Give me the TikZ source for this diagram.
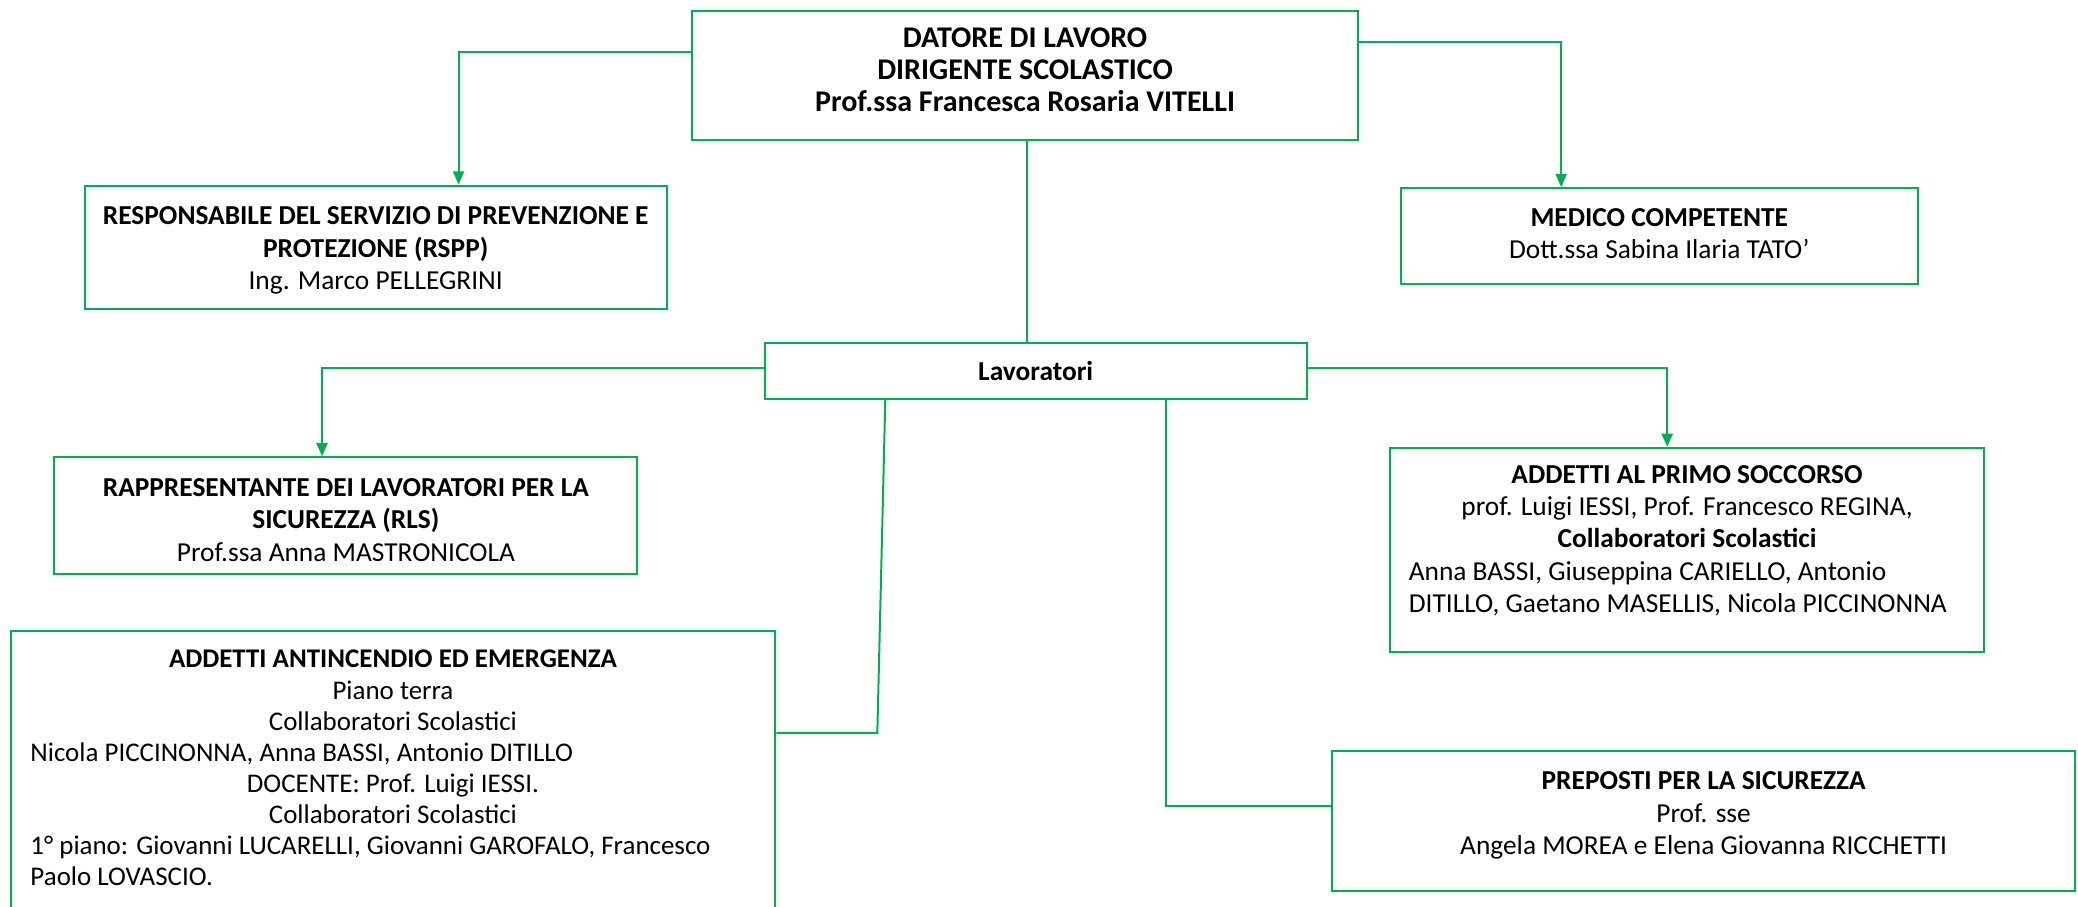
\documentclass[tikz,border=0pt]{standalone}
\usepackage{fontspec}
\setmainfont{Carlito}
\usetikzlibrary{arrows.meta}
\definecolor{gr}{HTML}{00B050}
\newcommand\tst{\rule{0pt}{10pt}}
\begin{document}
\begin{tikzpicture}[x=0.6pt,y=-0.6pt,
  bx/.style={draw=gr,line width=0.9pt,inner sep=0pt,fill=white},
  conn/.style={draw=gr,line width=0.9pt},
  arr/.style={conn,-{Triangle[length=6pt,width=5pt]}},
  font=\fontsize{12.4}{14.6}\selectfont]
\useasboundingbox (0,0) rectangle (1568,684);
\clip (0,0) rectangle (1568,684);

\node[bx] (dat) at (773.5,57) {\parbox[c][58.8pt][t]{301.8pt}{\fontsize{13.6}{14.5}\selectfont\vspace*{6.6pt}\centering\bfseries\tst DATORE DI LAVORO\\DIRIGENTE SCOLASTICO\\Prof.ssa Francesca Rosaria VITELLI\par}};

\node[bx] (rspp) at (283.5,186.5) {\parbox[c][55.8pt][t]{263.4pt}{\vspace*{7.8pt}\centering\tst\mbox{\textbf{RESPONSABILE DEL SERVIZIO DI PREVENZIONE E}}\\\textbf{PROTEZIONE (RSPP)}\\Ing. Marco PELLEGRINI\par}};

\node[bx] (med) at (1252,178) {\parbox[c][43.2pt][t]{234pt}{\vspace*{7.2pt}\centering\tst\textbf{MEDICO COMPETENTE}\\Dott.ssa Sabina Ilaria TATO’\par}};

\node[bx,minimum width=245.4pt,minimum height=25.2pt,font=\fontsize{12.4}{14.6}\selectfont\bfseries] (lav) at (781.5,280) {Lavoratori};

\node[bx] (rls) at (261,389) {\parbox[c][52.8pt][t]{264pt}{\vspace*{7.8pt}\centering\tst\textbf{RAPPRESENTANTE DEI LAVORATORI PER LA}\\\textbf{SICUREZZA (RLS)}\\Prof.ssa Anna MASTRONICOLA\par}};

\node[bx] (pri) at (1273,415) {\hspace*{8.4pt}\parbox[c][92.4pt][t]{252pt}{\vspace*{6pt}{\centering\tst\textbf{ADDETTI AL PRIMO SOCCORSO}\\prof. Luigi IESSI, Prof. Francesco REGINA,\\\textbf{Collaboratori Scolastici}\par}\raggedright
\mbox{Anna BASSI, Giuseppina CARIELLO, Antonio}\\\mbox{DITILLO, Gaetano MASELLIS, Nicola PICCINONNA}\par}\hspace*{8.4pt}};

\node[bx] (ant) at (296.5,598) {\hspace*{9pt}\parbox[c][146.4pt][t]{328.2pt}{\fontsize{12.2}{14.1}\selectfont\vspace*{6.8pt}{\centering\tst\textbf{ADDETTI ANTINCENDIO ED EMERGENZA}\\Piano terra\\Collaboratori Scolastici\par}\raggedright
\mbox{Nicola PICCINONNA, Anna BASSI, Antonio DITILLO}\par
{\centering DOCENTE: Prof. Luigi IESSI.\\Collaboratori Scolastici\par}
\mbox{1° piano: Giovanni LUCARELLI, Giovanni GAROFALO, Francesco}\\\mbox{Paolo LOVASCIO.}\par}\hspace*{9pt}};

\node[bx] (pre) at (1285.5,619.5) {\hspace*{8.3pt}\parbox[c][63pt][t]{320pt}{\vspace*{7.4pt}\centering\tst\textbf{PREPOSTI PER LA SICUREZZA}\\Prof. sse\\Angela MOREA e Elena Giovanna RICCHETTI\par}\hspace*{8.3pt}};

\coordinate (c1) at (346,39);
\draw[arr] (c1 -| dat.west) -| (rspp.north -| c1);
\coordinate (c2) at (1178,32);
\draw[arr] (c2 -| dat.east) -| (med.north -| c2);
\coordinate (c3) at (775,0);
\draw[conn] (dat.south -| c3) -- (lav.north -| c3);
\coordinate (c4) at (243,278);
\draw[arr] (c4 -| lav.west) -| (rls.north -| c4);
\coordinate (c5) at (1258,278);
\draw[arr] (c5 -| lav.east) -| (pri.north -| c5);
\coordinate (c6) at (668,0);
\coordinate (c7) at (662,553);
\draw[conn] (lav.south -| c6) -- (c7) -- (c7 -| ant.east);
\coordinate (c8) at (880,608);
\draw[conn] (lav.south -| c8) -- (c8) -- (c8 -| pre.west);
\end{tikzpicture}
\end{document}
